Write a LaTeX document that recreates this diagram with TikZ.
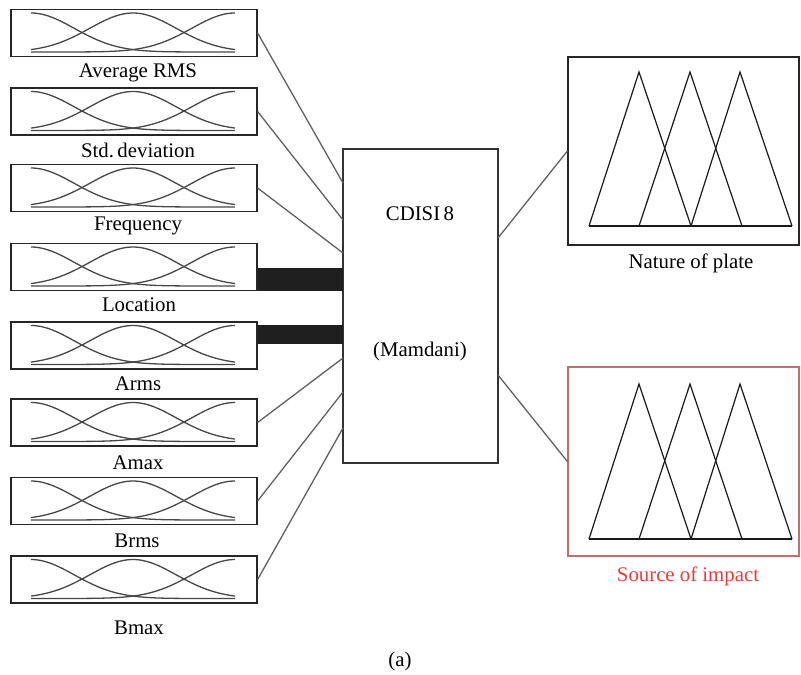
\documentclass[tikz,border=0pt]{standalone}
\usepackage{fontspec}
\setmainfont{Liberation Serif}
\begin{document}
\begin{tikzpicture}[x=0.5pt,y=-0.5pt,
  inbox/.style={draw=black!85, line width=0.6pt, minimum width=123pt, minimum height=23.5pt, inner sep=0pt},
  cbox/.style={draw=black!80, line width=0.6pt, minimum width=77.5pt, minimum height=157pt, inner sep=0pt},
  outbox/.style={draw=black!85, line width=0.6pt, minimum width=115.5pt, minimum height=94pt, inner sep=0pt},
  lbl/.style={inner sep=0pt, font=\fontsize{10.4}{12}\selectfont},
  link/.style={draw=black!62, line width=0.65pt},
  bar/.style={fill=black!88},
  mfcurve/.style={draw=black!72, line width=0.65pt},
  tri/.style={draw=black!90, line width=0.6pt},
  mfset/.pic={
    \draw[mfcurve] plot[domain=-103:101,samples=60,smooth] (\x,{19-39*exp(-((\x+103)/61.2)*((\x+103)/61.2))});
    \draw[mfcurve] plot[domain=-103:101,samples=60,smooth] (\x,{19-39*exp(-((\x+1)/61.2)*((\x+1)/61.2))});
    \draw[mfcurve] plot[domain=-103:101,samples=60,smooth] (\x,{19-39*exp(-((\x-101)/61.2)*((\x-101)/61.2))});
  }
]
\useasboundingbox (0,0) rectangle (801,674);

% input membership-function boxes
\foreach \n/\yy in {1/33,2/111.5,3/188,4/267,5/345.5,6/422.5,7/501,8/579.5}{
  \node[inbox] (i\n) at (134,\yy) {};
  \pic at (i\n.center) {mfset};
}

% input labels
\node[lbl] (l1) at (138,73) {Average RMS};
\node[lbl] (l2) at (138,150) {Std.\,deviation};
\node[lbl] (l3) at (138,226) {Frequency};
\node[lbl] (l4) at (139,305) {Location};
\node[lbl] (l5) at (138,384) {Arms};
\node[lbl] (l6) at (138,463) {Amax};
\node[lbl] (l7) at (137,541) {Brms};
\node[lbl] (l8) at (139,628) {Bmax};

% inference system block
\node[cbox] (c) at (420.5,306) {};
\node[lbl] (ct1) at (420,214) {CDISI\,8};
\node[lbl] (ct2) at (420,351) {(Mamdani)};

% attachment points on the block
\coordinate (q1) at (343,183);
\coordinate (q2) at (343,220);
\coordinate (q3) at (343,253);
\coordinate (q4) at (343,268);
\coordinate (q5) at (343,344);
\coordinate (q6) at (343,358);
\coordinate (q7) at (343,392);
\coordinate (q8) at (343,428);
\coordinate (r1) at (498,238);
\coordinate (r2) at (498,375);

% connectors from inputs
\draw[link] (i1.east) -- (q1);
\draw[link] (i2.east) -- (q2);
\draw[link] (i3.east) -- (q3);
\fill[bar] (i4.south east) rectangle (q4);
\fill[bar] ([yshift=-2pt]i5.north east) rectangle (q5);
\draw[link] (i6.east) -- (q6);
\draw[link] (i7.east) -- (q7);
\draw[link] (i8.east) -- (q8);

% output boxes
\node[outbox] (n) at (683.5,151) {};
\node[outbox, draw={rgb,255:red,196;green,110;blue,110}, minimum height=94.5pt] (s) at (683.5,461.5) {};
\node[lbl] (nl) at (691,263) {Nature of plate};
\node[lbl, text={rgb,255:red,235;green,60;blue,60}] (sl) at (688,576) {Source of impact};

\draw[link] (r1) -- (n.west);
\draw[link] (r2) -- (s.west);

% triangular output sets
\foreach \base/\peak in {226/72, 539/384}{
  \draw[tri] (589,\base) -- (639,\peak) -- (691,\base);
  \draw[tri] (639,\base) -- (690,\peak) -- (742,\base);
  \draw[tri] (691,\base) -- (740,\peak) -- (792,\base);
  \draw[tri] (589,\base) -- (792,\base);
}

\node[lbl] (cap) at (400,661) {(a)};
\end{tikzpicture}
\end{document}
